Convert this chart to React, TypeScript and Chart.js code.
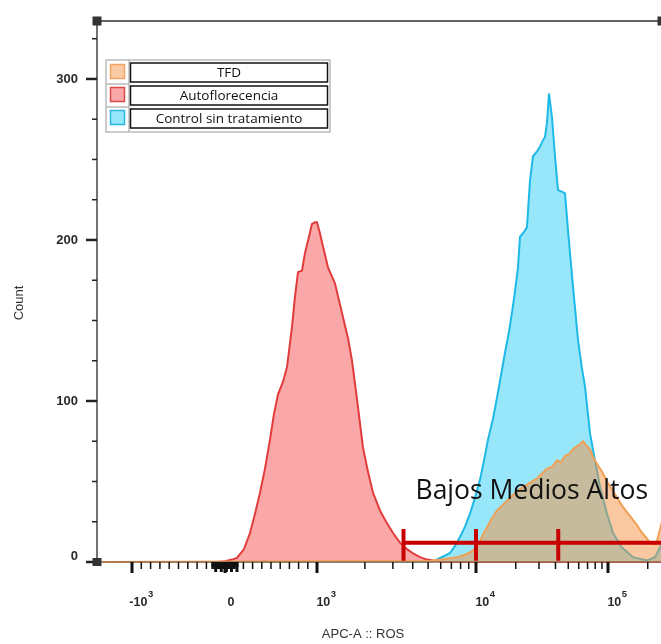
import React, { useEffect, useRef } from "react";
import { Chart, registerables } from "chart.js";

Chart.register(...registerables);

// ---------------- data ----------------
const seriesNames = ["TFD", "Autoflorecencia", "Control sin tratamiento"];

// histogram bins in display channels (FlowJo-style biexponential display)
const tfdChannels = [0, 333, 348, 360, 368, 373, 380, 386, 393, 400, 405, 410, 415, 420, 425, 430, 435, 440, 445, 450, 455, 460, 464, 468, 472, 476, 480, 483, 486, 490, 493, 497, 500, 505, 510, 515, 520, 525, 530, 535, 540, 544, 548, 552, 555, 559, 563, 566];
const tfdCounts = [0, 0.6, 1.9, 3, 4.5, 6, 9, 17, 25, 32, 35, 38, 41, 44, 46, 48, 50, 52, 55, 58, 59, 63, 62, 66, 67, 70, 72, 73, 75, 72, 70, 64, 61, 56, 50, 45, 40, 35, 31, 27, 23, 19, 16, 13, 11, 11, 20, 28];

const autoChannels = [0, 120, 128, 135, 140, 147, 153, 158, 163, 168, 173, 177, 181, 186, 190, 195, 198, 201, 205, 208, 212, 215, 218, 220, 223, 226, 231, 238, 246, 251, 255, 260, 266, 271, 276, 283, 290, 296, 303, 310, 317, 323, 330, 336, 345, 566];
const autoCounts = [0, 0, 0.5, 1.5, 2.5, 8, 18, 30, 43, 58, 76, 92, 104, 112, 121, 146, 165, 180, 181, 192, 202, 210, 211, 211, 204, 196, 183, 173, 152, 139, 125, 101, 71, 56, 43, 32, 24, 18, 12, 8, 5, 3, 1.5, 1, 0, 0];

const controlChannels = [0, 330, 337, 343, 348, 353, 358, 363, 368, 373, 378, 383, 387, 391, 396, 400, 404, 408, 412, 415, 418, 421, 423, 427, 430, 433, 436, 440, 443, 446, 448, 450, 452, 455, 458, 461, 465, 468, 471, 476, 481, 485, 488, 493, 498, 503, 510, 516, 525, 536, 550, 558, 563, 566];
const controlCounts = [0, 0, 0.5, 2.5, 4, 5.6, 10, 15.5, 22, 30, 40, 51, 63, 76, 89, 102, 116, 130, 143, 155, 168, 183, 202, 205, 208, 237, 252, 255, 258, 262, 264, 273, 291, 276, 252, 231, 230, 229, 206, 171, 138, 120, 109, 80, 63, 47, 30, 18, 9, 3, 1, 3, 9, 14];

// axis (display transform anchors: value -> channel)
const axisAnchorValues = [-1000, 0, 1000, 10000, 100000];
const axisAnchorChannels = [35, 128, 220, 379, 511];
const xChannelMax = 565;
const xMajorBase = ["-10", "0", "10", "10", "10"];
const xMajorExp = ["3", "", "3", "4", "5"];
const xTitle = "APC-A :: ROS";

const yMajorTicks = [0, 100, 200, 300];
const yMinorStep = 25;
const yMax = 336;
const yTitle = "Count";

// gates
const gateBounds = [3500, 10000, 42000];
const gateNames = ["Bajos", "Medios", "Altos"];
const gateLevel = 12;

// ---------------- helpers ----------------
function valueToChannel(v: number): number {
  const A = axisAnchorValues;
  const C = axisAnchorChannels;
  if (v <= 1000) {
    const i = v < 0 ? 0 : 1;
    return C[i] + ((v - A[i]) / (A[i + 1] - A[i])) * (C[i + 1] - C[i]);
  }
  const lg = Math.log10(v);
  const d = Math.floor(lg);
  const i = Math.min(d - 1, 3);
  const l0 = Math.log10(A[i]);
  const l1 = Math.log10(A[i + 1]);
  return C[i] + ((lg - l0) / (l1 - l0)) * (C[i + 1] - C[i]);
}

function minorTickValues(): number[] {
  const out: number[] = [];
  for (let k = 2; k <= 9; k++) out.push(-k * 100, k * 100);
  for (let k = 2; k <= 9; k++) out.push(k * 1000, k * 10000);
  out.push(200000);
  return out;
}
const zeroClusterValues = [-130, -100, -70, -40, -15, 15, 40, 70, 100, 130];

const FONT = '"Liberation Sans", Arial, sans-serif';
const LEG_FONT = '"Open Sans", "Noto Sans", sans-serif';

const legendFill = ["rgba(245,150,70,0.5)", "rgba(245,80,80,0.5)", "rgba(50,205,245,0.5)"];
const legendStroke = ["rgb(240,165,100)", "rgb(220,75,75)", "rgb(40,185,225)"];

const decorPlugin = {
  id: "flowDecor",
  afterDatasetsDraw(chart: any) {
    const { ctx, chartArea: a, scales } = chart;
    const xs = scales.x;
    const ys = scales.y;
    const px = (v: number) => xs.getPixelForValue(valueToChannel(v));
    ctx.save();

    // gate
    ctx.strokeStyle = "rgb(200,0,0)";
    ctx.lineWidth = 4;
    ctx.lineCap = "butt";
    const gy = ys.getPixelForValue(gateLevel);
    ctx.beginPath();
    ctx.moveTo(px(gateBounds[0]), gy);
    ctx.lineTo(a.right + 10, gy);
    ctx.stroke();
    const gTop = ys.getPixelForValue(20.5);
    const gBot = ys.getPixelForValue(0.8);
    gateBounds.forEach((b) => {
      ctx.beginPath();
      ctx.moveTo(px(b), gTop);
      ctx.lineTo(px(b), gBot);
      ctx.stroke();
    });
    ctx.fillStyle = "#111";
    ctx.font = `26.5px ${LEG_FONT}`;
    ctx.textAlign = "left";
    ctx.textBaseline = "alphabetic";
    ctx.fillText(gateNames.join(" "), px(gateBounds[0]) + 12, ys.getPixelForValue(39));

    // frame
    ctx.strokeStyle = "#666";
    ctx.lineWidth = 2;
    ctx.beginPath();
    ctx.moveTo(a.left, a.top);
    ctx.lineTo(a.right, a.top);
    ctx.stroke();
    ctx.strokeStyle = "#444";
    ctx.lineWidth = 1.5;
    ctx.beginPath();
    ctx.moveTo(a.left, a.top);
    ctx.lineTo(a.left, a.bottom);
    ctx.stroke();
    ctx.strokeStyle = "rgba(150,105,75,0.9)";
    ctx.lineWidth = 1.5;
    ctx.beginPath();
    ctx.moveTo(a.left, a.bottom);
    ctx.lineTo(a.right, a.bottom);
    ctx.stroke();

    // y ticks
    ctx.strokeStyle = "#222";
    for (let v = 0; v <= yMax; v += yMinorStep) {
      const y = ys.getPixelForValue(v);
      const major = yMajorTicks.includes(v);
      ctx.lineWidth = major ? 2.5 : 1.5;
      ctx.beginPath();
      ctx.moveTo(a.left - (major ? 11 : 5), y);
      ctx.lineTo(a.left, y);
      ctx.stroke();
    }
    ctx.fillStyle = "#2a2a2a";
    ctx.font = `bold 13px ${FONT}`;
    ctx.textAlign = "right";
    ctx.textBaseline = "middle";
    yMajorTicks.forEach((v) => {
      const y = ys.getPixelForValue(v);
      ctx.fillText(String(v), a.left - 19, v === 0 ? y - 6 : y);
    });

    // x ticks
    ctx.strokeStyle = "#111";
    minorTickValues().forEach((v) => {
      const x = px(v);
      if (x < a.left || x > a.right) return;
      ctx.lineWidth = 1.5;
      ctx.beginPath();
      ctx.moveTo(x, a.bottom);
      ctx.lineTo(x, a.bottom + 7);
      ctx.stroke();
    });
    zeroClusterValues.forEach((v, i) => {
      const x = px(v);
      ctx.lineWidth = 3;
      ctx.beginPath();
      ctx.moveTo(x, a.bottom);
      ctx.lineTo(x, a.bottom + (i % 2 ? 10 : 7));
      ctx.stroke();
    });
    ctx.fillStyle = "#111";
    ctx.fillRect(px(-130) - 1.5, a.bottom, px(130) - px(-130) + 3, 5);
    axisAnchorValues.forEach((v) => {
      const x = px(v);
      ctx.lineWidth = 3;
      ctx.beginPath();
      ctx.moveTo(x, a.bottom);
      ctx.lineTo(x, a.bottom + 11);
      ctx.stroke();
    });
    // x labels
    ctx.fillStyle = "#2a2a2a";
    ctx.textBaseline = "alphabetic";
    ctx.textAlign = "left";
    axisAnchorValues.forEach((v, i) => {
      const x = px(v);
      ctx.font = `bold 12.5px ${FONT}`;
      const wb = ctx.measureText(xMajorBase[i]).width;
      ctx.font = `bold 9.5px ${FONT}`;
      const we = xMajorExp[i] ? ctx.measureText(xMajorExp[i]).width : 0;
      const cx = x + (xMajorExp[i] ? 9 : 6);
      const left = cx - (wb + we) / 2;
      ctx.font = `bold 12.5px ${FONT}`;
      ctx.fillText(xMajorBase[i], left, a.bottom + 44);
      if (xMajorExp[i]) {
        ctx.font = `bold 9.5px ${FONT}`;
        ctx.fillText(xMajorExp[i], left + wb + 0.5, a.bottom + 35);
      }
    });

    // corner squares
    ctx.fillStyle = "#333";
    ctx.fillRect(a.left - 4.5, a.top - 4.5, 9, 9);
    ctx.fillRect(a.right - 4.5, a.top - 4.5, 9, 9);
    ctx.fillRect(a.left - 4.5, a.bottom - 4, 9, 8);

    // axis titles
    ctx.fillStyle = "#333";
    ctx.font = `13px ${FONT}`;
    ctx.textAlign = "center";
    ctx.textBaseline = "middle";
    ctx.fillText(xTitle, 363, 634);
    ctx.save();
    ctx.translate(19, 303);
    ctx.rotate(-Math.PI / 2);
    ctx.fillText(yTitle, 0, 0);
    ctx.restore();

    // legend
    const L = { x: 106, y: 60, w: 224, h: 72 };
    ctx.fillStyle = "#fff";
    ctx.fillRect(L.x, L.y, L.w, L.h);
    ctx.strokeStyle = "#bbb";
    ctx.lineWidth = 1.5;
    ctx.strokeRect(L.x, L.y, L.w, L.h);
    ctx.beginPath();
    ctx.moveTo(129, L.y);
    ctx.lineTo(129, L.y + L.h);
    ctx.moveTo(L.x, 84);
    ctx.lineTo(129, 84);
    ctx.moveTo(L.x, 107);
    ctx.lineTo(129, 107);
    ctx.stroke();
    const rowsY = [63, 86, 109];
    seriesNames.forEach((name, i) => {
      const ry = rowsY[i];
      ctx.fillStyle = legendFill[i];
      ctx.fillRect(110.5, ry + 1.5, 14, 14);
      ctx.strokeStyle = legendStroke[i];
      ctx.lineWidth = 1.5;
      ctx.strokeRect(110.5, ry + 1.5, 14, 14);
      ctx.fillStyle = "#fff";
      ctx.fillRect(130.5, ry, 197, 19);
      ctx.strokeStyle = "#111";
      ctx.lineWidth = 1.5;
      ctx.strokeRect(130.5, ry, 197, 19);
      ctx.fillStyle = "#111";
      ctx.font = `13.5px ${LEG_FONT}`;
      ctx.textAlign = "center";
      ctx.textBaseline = "middle";
      ctx.fillText(name, 229, ry + 10);
    });

    ctx.restore();
  },
};

function toPoints(xs: number[], ys: number[]) {
  return xs.map((x, i) => ({ x, y: ys[i] }));
}

export default function App() {
  const ref = useRef<HTMLCanvasElement | null>(null);
  useEffect(() => {
    if (!ref.current) return;
    const chart = new Chart(ref.current, {
      type: "line",
      data: {
        datasets: [
          {
            label: seriesNames[0],
            data: toPoints(tfdChannels, tfdCounts),
            borderColor: "rgb(240,160,85)",
            backgroundColor: "rgba(245,145,65,0.5)",
            fill: "origin",
            borderWidth: 2,
            order: 0,
            clip: 3,
          },
          {
            label: seriesNames[2],
            data: toPoints(controlChannels, controlCounts),
            borderColor: "rgb(30,185,230)",
            backgroundColor: "rgba(50,205,245,0.5)",
            fill: "origin",
            borderWidth: 2,
            order: 1,
            clip: 3,
          },
          {
            label: seriesNames[1],
            data: toPoints(autoChannels, autoCounts),
            borderColor: "rgb(225,60,60)",
            backgroundColor: "rgba(245,80,80,0.5)",
            fill: "origin",
            borderWidth: 2,
            order: 2,
            clip: 3,
          },
        ],
      },
      options: {
        animation: false,
        responsive: false,
        maintainAspectRatio: false,
        layout: { padding: { left: 97, top: 21, right: 670 - 662, bottom: 644 - 562 } },
        elements: { point: { radius: 0 }, line: { tension: 0 } },
        plugins: { legend: { display: false }, tooltip: { enabled: false } },
        scales: {
          x: { type: "linear", min: 0, max: xChannelMax, display: false },
          y: { type: "linear", min: 0, max: yMax, display: false },
        },
      },
      plugins: [decorPlugin],
    });
    return () => chart.destroy();
  }, []);
  return (
    <div style={{ position: "fixed", left: 0, top: 0, width: 661, height: 644, overflow: "hidden", background: "#fff" }}>
      <canvas ref={ref} width={670} height={644} style={{ width: 670, height: 644, display: "block" }} />
    </div>
  );
}
